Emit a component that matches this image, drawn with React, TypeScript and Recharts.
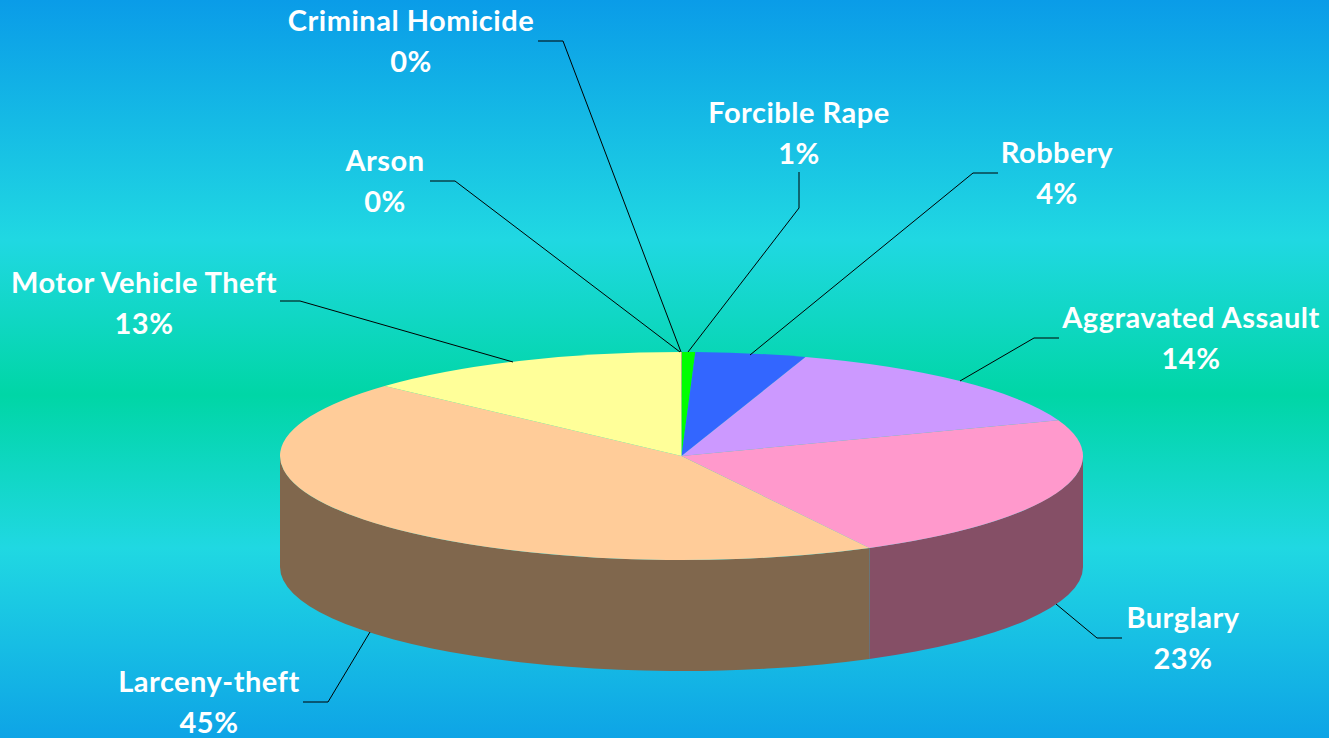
import React from "react";
import { PieChart, Pie } from "recharts";

const categories = ["Criminal Homicide", "Forcible Rape", "Robbery", "Aggravated Assault", "Burglary", "Larceny-theft", "Motor Vehicle Theft", "Arson"];
const shares = [0.02, 0.53, 4.45, 14.4, 22.85, 44.51, 13.22, 0.02];
const topColors = ["#c00000", "#00ff00", "#3366ff", "#cc99ff", "#ff99cc", "#ffcc99", "#ffff99", "#ffff99"];
const sideColors = ["#600000", "#008000", "#1a3380", "#664d80", "#854f66", "#80674d", "#80804d", "#80804d"];

const W = 1329, H = 738, CX = 681.5, CY = 456, RX = 401.5, RY = 104, DEPTH = 111;
const FONT_SIZE = 29, LINE_GAP = 41, TRACKING = 0.5;

// label layout: [centre x, first baseline y], leader polyline points
const labelPos: [number, number][] = [[411, 31], [799, 123], [1057, 163], [1191, 328], [1183, 628], [209, 692], [144, 293], [385, 171]];
const leaders: string[] = [
  "538,41 563,41 681,352",
  "799,172 799,208 688,352",
  "998,173 973,173 750,355",
  "1059,338 1034,338 960,381",
  "1122,638 1097,638 1056,604",
  "303,702 328,702 370,632",
  "280,301 300,301 513,362",
  "430,181 455,181 680,352",
];

const rows = categories.map((name, i) => ({ name, value: shares[i], fill: topColors[i], side: sideColors[i] }));

const pt = (t: number, dy = 0) => {
  const r = (t * Math.PI) / 180;
  return [CX + RX * Math.sin(r), CY - RY * Math.cos(r) + dy];
};

const TopSlice = (p: any) => {
  const t1 = 90 - p.startAngle, t2 = 90 - p.endAngle;
  const [x1, y1] = pt(t1), [x2, y2] = pt(t2);
  const large = t2 - t1 > 180 ? 1 : 0;
  return <path d={`M${CX},${CY} L${x1},${y1} A${RX},${RY} 0 ${large} 1 ${x2},${y2} Z`} fill={p.fill} stroke="none" />;
};

const SideSlice = (p: any) => {
  const t1 = Math.max(90 - p.startAngle, 90), t2 = Math.min(90 - p.endAngle, 270);
  if (t2 <= t1) return <g />;
  const [x1, y1] = pt(t1), [x2, y2] = pt(t2);
  return (
    <path
      d={`M${x1},${y1} A${RX},${RY} 0 0 1 ${x2},${y2} L${x2},${y2 + DEPTH} A${RX},${RY} 0 0 0 ${x1},${y1 + DEPTH} Z`}
      fill={p.payload?.side ?? p.side}
      stroke="none"
    />
  );
};

const SliceLabel = (p: any) => {
  const i = p.index;
  const [x, y] = labelPos[i];
  const style = { fontFamily: "Lato", fontWeight: 700, fontSize: FONT_SIZE, letterSpacing: TRACKING };
  return (
    <g>
      <polyline points={leaders[i]} fill="none" stroke="#000" strokeWidth={1} />
      <text x={x} y={y} textAnchor="middle" fill="#fff" style={style}>{categories[i]}</text>
      <text x={x} y={y + LINE_GAP} textAnchor="middle" fill="#fff" style={style}>{`${Math.round(p.percent * 100)}%`}</text>
    </g>
  );
};

export default function App() {
  return (
    <div
      style={{
        position: "absolute", left: 0, top: 0, width: W, height: H,
        background: "linear-gradient(180deg, #0a9ce8 0px, #20d8e2 240px, #00d6a6 395px, #20d8e2 548px, #0ea4e6 738px)",
      }}
    >
      <PieChart width={W} height={H} margin={{ top: 0, right: 0, bottom: 0, left: 0 }}>
        <Pie data={rows} dataKey="value" nameKey="name" cx={CX} cy={CY} outerRadius={RX} startAngle={90} endAngle={-270}
          paddingAngle={0} stroke="none" shape={SideSlice} label={false} labelLine={false} isAnimationActive={false} />
        <Pie data={rows} dataKey="value" nameKey="name" cx={CX} cy={CY} outerRadius={RX} startAngle={90} endAngle={-270}
          paddingAngle={0} stroke="none" shape={TopSlice} label={SliceLabel} labelLine={false} isAnimationActive={false} />
      </PieChart>
    </div>
  );
}
